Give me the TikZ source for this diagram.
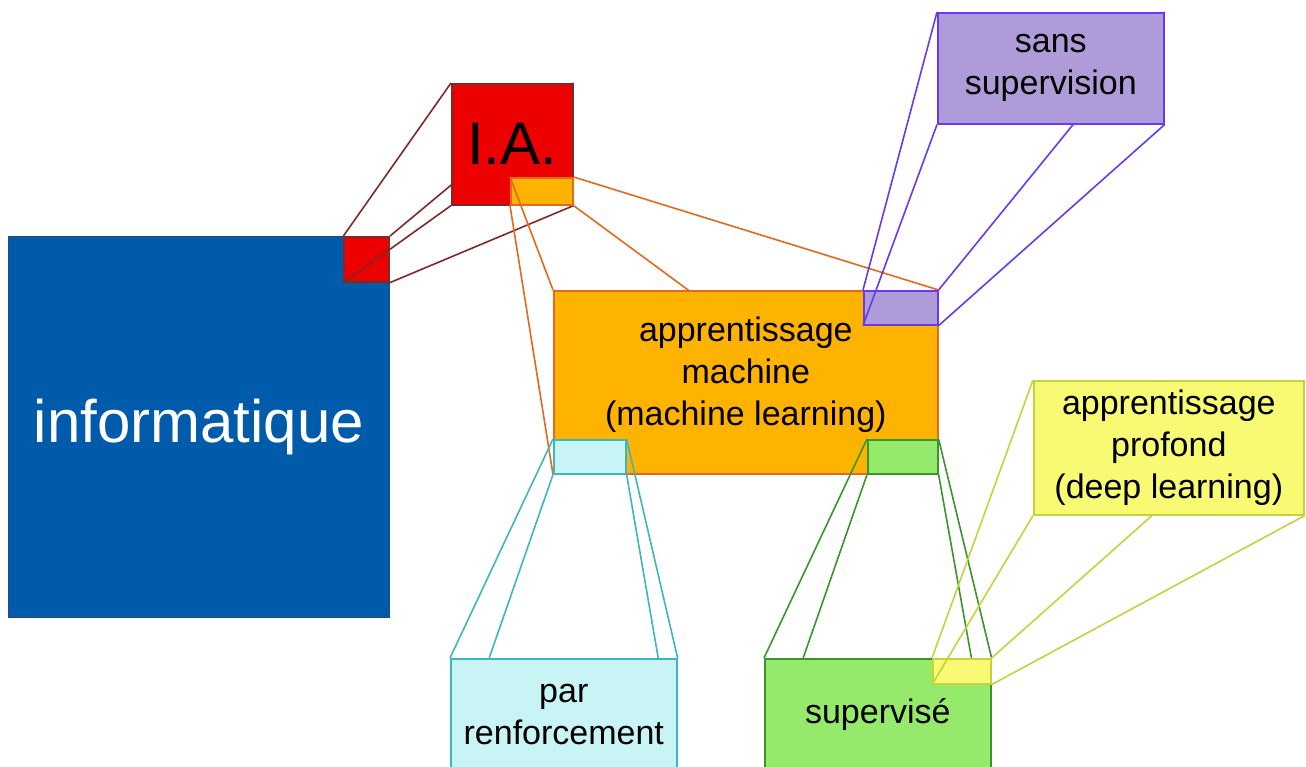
\documentclass[tikz,border=0pt]{standalone}
\usepackage{fontspec}
\setmainfont{Liberation Sans}

\pgfdeclarelayer{level1}
\pgfdeclarelayer{level2}
\pgfdeclarelayer{level3}
\pgfdeclarelayer{level4}
\pgfsetlayers{main,level1,level2,level3,level4}

\definecolor{infoblue}{HTML}{005BAA}
\definecolor{infoline}{HTML}{27497A}
\definecolor{iared}{HTML}{EC0000}
\definecolor{ialine}{HTML}{7E2A28}
\definecolor{mlorange}{HTML}{FDB300}
\definecolor{mlline}{HTML}{E2691E}
\definecolor{svfill}{HTML}{AE9BD7}
\definecolor{svline}{HTML}{6A38EE}
\definecolor{rffill}{HTML}{C8F4F6}
\definecolor{rfline}{HTML}{3DB7BD}
\definecolor{spfill}{HTML}{96EA6B}
\definecolor{spline}{HTML}{3A962C}
\definecolor{dlfill}{HTML}{F9FA73}
\definecolor{dlline}{HTML}{C3D33C}

\tikzset{
	panel/.style={rectangle, inner sep=0pt, anchor=north west, line width=1.6pt, align=center},
	bigtext/.style={font=\fontsize{60}{72}\selectfont},
	smalltext/.style={font=\fontsize{34}{42}\selectfont},
	zoomline/.style={line width=1.6pt},
}

\begin{document}
\begin{tikzpicture}[x=1pt, y=-1pt]

		\useasboundingbox[fill=white] (0,0) rectangle (1306,767);

		% informatique and the I.A. corner
		\node[panel, fill=infoblue, draw=infoline, line width=1pt, minimum width=381pt, minimum height=381pt, text=white, bigtext] (info) at (8,236) {informatique};
		\node[panel, fill=iared, draw=ialine, minimum width=45pt, minimum height=45pt, anchor=north east] (iaS) at (info.north east) {};

		\begin{pgfonlayer}{level1}
		\node[panel, fill=iared, draw=ialine, minimum width=121pt, minimum height=121pt, bigtext] (ia) at (451,83) {I.A.};
		\node[panel, fill=mlorange, draw=mlline, minimum width=62pt, minimum height=27pt, anchor=south east] (mlS) at (ia.south east) {};
		\end{pgfonlayer}

		\draw[zoomline, ialine] (iaS.north west) -- (ia.north west) (iaS.north east) -- (ia.north east)
			(iaS.south west) -- (ia.south west) (iaS.south east) -- (ia.south east);

		% apprentissage machine
		\begin{pgfonlayer}{level2}
		\node[panel, fill=mlorange, draw=mlline, minimum width=384pt, minimum height=183pt, smalltext, text height=96pt, text depth=10pt] (ml) at (553,290) {apprentissage\\machine\\(machine learning)};
		\node[panel, fill=svfill, draw=svline, minimum width=74pt, minimum height=34pt, anchor=north east] (svS) at (ml.north east) {};
		\node[panel, fill=rffill, draw=rfline, minimum width=72pt, minimum height=34pt, anchor=south west] (rfS) at (ml.south west) {};
		\node[panel, fill=spfill, draw=spline, minimum width=70pt, minimum height=34pt, anchor=south east] (spS) at (ml.south east) {};
		\end{pgfonlayer}

		\begin{pgfonlayer}{level1}
		\draw[zoomline, mlline] (mlS.north west) -- (ml.north west) (mlS.north east) -- (ml.north east)
			(mlS.south west) -- (ml.south west) (mlS.south east) -- (ml.south east);
		\end{pgfonlayer}

		% the three kinds of learning
		\begin{pgfonlayer}{level3}
		\node[panel, fill=svfill, draw=svline, minimum width=226pt, minimum height=111pt, smalltext] (sv) at (937,12) {sans\\supervision};
		\node[panel, fill=rffill, draw=rfline, minimum width=226pt, minimum height=111pt, smalltext] (rf) at (450,658) {par\\renforcement};
		\node[panel, fill=spfill, draw=spline, minimum width=226pt, minimum height=111pt, smalltext] (sp) at (764,658) {supervisé};
		\node[panel, fill=dlfill, draw=dlline, minimum width=58pt, minimum height=25pt, anchor=north east] (dlS) at (sp.north east) {};
		\end{pgfonlayer}

		\begin{pgfonlayer}{level2}
		\draw[zoomline, svline] (svS.north west) -- (sv.north west) (svS.north east) -- (sv.north east)
			(svS.south west) -- (sv.south west) (svS.south east) -- (sv.south east);
		\draw[zoomline, rfline] (rfS.north west) -- (rf.north west) (rfS.north east) -- (rf.north east)
			(rfS.south west) -- (rf.south west) (rfS.south east) -- (rf.south east);
		\draw[zoomline, spline] (spS.north west) -- (sp.north west) (spS.north east) -- (sp.north east)
			(spS.south west) -- (sp.south west) (spS.south east) -- (sp.south east);
		\end{pgfonlayer}

		% deep learning
		\begin{pgfonlayer}{level4}
		\node[panel, fill=dlfill, draw=dlline, minimum width=270pt, minimum height=134pt, smalltext] (dl) at (1033,380) {apprentissage\\profond\\(deep learning)};
		\end{pgfonlayer}

		\begin{pgfonlayer}{level3}
		\draw[zoomline, dlline] (dlS.north west) -- (dl.north west) (dlS.north east) -- (dl.north east)
			(dlS.south west) -- (dl.south west) (dlS.south east) -- (dl.south east);
		\end{pgfonlayer}

	\end{tikzpicture}
\end{document}
